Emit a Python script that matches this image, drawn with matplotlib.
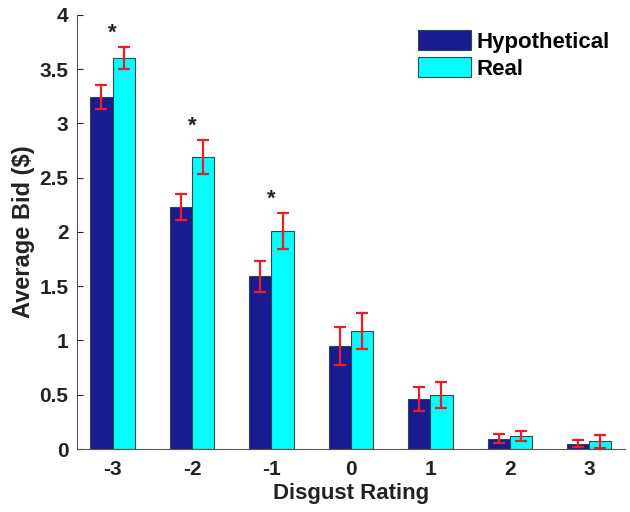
import numpy as np
import matplotlib.pyplot as plt

plt.rcParams['font.family'] = ['Liberation Sans', 'DejaVu Sans']
plt.rcParams['font.weight'] = 'bold'
plt.rcParams['axes.unicode_minus'] = False

ratings = [-3, -2, -1, 0, 1, 2, 3]
hypothetical = [3.24, 2.23, 1.59, 0.95, 0.46, 0.095, 0.05]
hyp_err = [0.11, 0.12, 0.14, 0.175, 0.11, 0.04, 0.03]
real = [3.60, 2.69, 2.01, 1.09, 0.50, 0.12, 0.07]
real_err = [0.10, 0.16, 0.165, 0.165, 0.12, 0.05, 0.06]
significant = [-3, -2, -1]

x = np.array(ratings, dtype=float)
w = 0.28

fig = plt.figure(figsize=(6.3, 5.12), dpi=100)
ax = fig.add_axes([0.122, 0.123, 0.870, 0.848])

ax.bar(x - w / 2, hypothetical, w, color='#1b1b91', edgecolor='#2a4a4a',
       linewidth=0.8, label='Hypothetical', zorder=2)
ax.bar(x + w / 2, real, w, color='#00ffff', edgecolor='#2a4a4a',
       linewidth=0.8, label='Real', zorder=2)
ax.errorbar(x - w / 2, hypothetical, yerr=hyp_err, fmt='none', ecolor='#ee1c25',
            elinewidth=1.6, capsize=4, capthick=1.6, zorder=3)
ax.errorbar(x + w / 2, real, yerr=real_err, fmt='none', ecolor='#ee1c25',
            elinewidth=1.6, capsize=4, capthick=1.6, zorder=3)

# significance markers above the Real bars
for r in significant:
    i = ratings.index(r)
    ax.text(r, real[i] + real_err[i] + 0.03, '*', ha='center', va='bottom',
            fontsize=16, fontweight='bold', color='#222222')

ax.set_xlim(-3.45, 3.45)
ax.set_ylim(0, 4)
ax.set_xticks(ratings)
ax.set_xticklabels([str(r) for r in ratings])
ax.set_yticks(np.arange(0, 4.01, 0.5))
ax.set_yticklabels(['0', '0.5', '1', '1.5', '2', '2.5', '3', '3.5', '4'])
ax.tick_params(direction='in', labelsize=15, length=4, colors='#222222')
ax.tick_params(axis='x', length=0, pad=8)
ax.tick_params(axis='y', pad=6)
for s in ['top', 'right']:
    ax.spines[s].set_visible(False)
for s in ['left', 'bottom']:
    ax.spines[s].set_color('#555555')

ax.set_xlabel('Disgust Rating', fontsize=16, fontweight='bold', labelpad=3,
              color='#222222')
ax.set_ylabel('Average Bid ($)', fontsize=17, fontweight='bold', labelpad=3,
              color='#222222')

ax.legend(loc='upper right', bbox_to_anchor=(1.0, 1.0), frameon=False,
          fontsize=16, handlelength=2.35, handleheight=1.0, handletextpad=0.25,
          labelspacing=0.2, borderaxespad=0.3)

fig.savefig('out.png', dpi=100)
